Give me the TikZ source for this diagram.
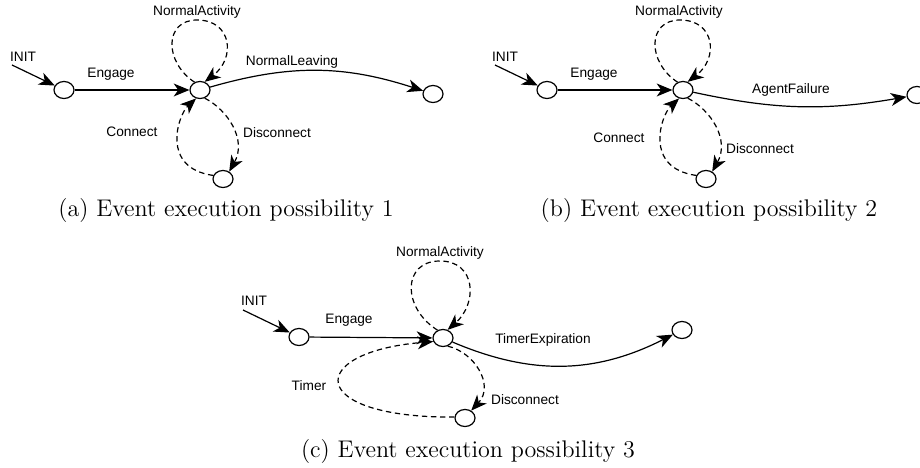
\documentclass[tikz,border=0pt]{standalone}
\usepackage{fontspec}
\newfontfamily\labfont{Liberation Sans}
\usetikzlibrary{arrows.meta,shapes.geometric}
\begin{document}
\begin{tikzpicture}[x=0.54pt,y=-0.54pt,
  st/.style={draw, ellipse, minimum width=10.8pt, minimum height=9.2pt, inner sep=0pt, line width=0.65pt},
  tr/.style={line width=0.65pt, -{Stealth[length=8.5pt,width=7pt,inset=2.5pt]}},
  dtr/.style={tr, dash pattern=on 2.9pt off 2pt},
  lb/.style={font=\labfont\fontsize{7.4}{8}\selectfont, inner sep=0pt},
  capt/.style={font=\fontsize{13}{15}\selectfont, inner sep=0pt, anchor=base}]
\useasboundingbox (0,0) rectangle (920,468);

% ---------- panel (a)
\node[st] (a0) at (64,90) {};
\node[st] (a1) at (200,90) {};
\node[st] (a2) at (433,94) {};
\node[st] (a3) at (223,179) {};
\coordinate (ai) at (12,65);
\node[lb] (aINIT) at (23,57) {INIT};
\draw[tr] (ai) -- (a0);
\draw[tr] (a0) -- (a1);
\node[lb] (aEng) at (111,74) {Engage};
\draw[dtr] (a1.125) .. controls (164,62) and (164,20) .. (197,20) .. controls (232,20) and (236,58) .. (a1.60);
\node[lb] (aNA) at (197,12) {NormalActivity};
\draw[tr] (a1) to[bend left=17] (a2);
\node[lb] (aNL) at (292,62) {NormalLeaving};
\draw[dtr] (a1.-60) .. controls (228,110) and (247,140) .. (a3.50);
\node[lb] (aDis) at (277,133) {Disconnect};
\draw[dtr] (a3.160) .. controls (160,168) and (178,115) .. (a1.-115);
\node[lb] (aCon) at (132,132) {Connect};
\node[capt] (acap) at (226,217) {(a) Event execution possibility 1};

% ---------- panel (b)
\begin{scope}[shift={(483,0)}]
\node[st] (b0) at (64,90) {};
\node[st] (b1) at (200,90) {};
\node[st] (b2) at (434,95) {};
\node[st] (b3) at (223,179) {};
\coordinate (bi) at (12,65);
\node[lb] (bINIT) at (22,57) {INIT};
\draw[tr] (bi) -- (b0);
\draw[tr] (b0) -- (b1);
\node[lb] (bEng) at (111,74) {Engage};
\draw[dtr] (b1.125) .. controls (164,62) and (164,20) .. (197,20) .. controls (232,20) and (236,58) .. (b1.60);
\node[lb] (bNA) at (196,12) {NormalActivity};
\draw[tr] (b1) to[bend right=11] (b2);
\node[lb] (bAF) at (308,90) {AgentFailure};
\draw[dtr] (b1.-60) .. controls (228,110) and (247,140) .. (b3.50);
\node[lb] (bDis) at (277,149) {Disconnect};
\draw[dtr] (b3.160) .. controls (160,168) and (178,115) .. (b1.-115);
\node[lb] (bCon) at (136,138) {Connect};
\node[capt] (bcap) at (226,217) {(b) Event execution possibility 2};
\end{scope}

% ---------- panel (c)
\node[st] (c0) at (299,337) {};
\node[st] (c1) at (443,338) {};
\node[st] (c2) at (682,330) {};
\node[st] (c3) at (465,418) {};
\coordinate (ci) at (243,310);
\node[lb] (cINIT) at (254,301) {INIT};
\draw[tr] (ci) -- (c0);
\draw[tr] (c0) -- (c1);
\node[lb] (cEng) at (349,320) {Engage};
\draw[dtr] (c1.125) .. controls (402,308) and (402,261) .. (440,261) .. controls (476,261) and (478,303) .. (c1.60);
\node[lb] (cNA) at (440,253) {NormalActivity};
\draw[tr] (c1) to[bend right=25] (c2);
\node[lb] (cTE) at (543,340) {TimerExpiration};
\draw[dtr] (c1.-60) .. controls (474,352) and (495,385) .. (c3.50);
\node[lb] (cDis) at (525,400) {Disconnect};
\draw[dtr] (c3.175) .. controls (305,418) and (305,352) .. (c1.-160);
\node[lb] (cTim) at (309,386) {Timer};
\node[capt] (ccap) at (468,458) {(c) Event execution possibility 3};
\end{tikzpicture}
\end{document}
